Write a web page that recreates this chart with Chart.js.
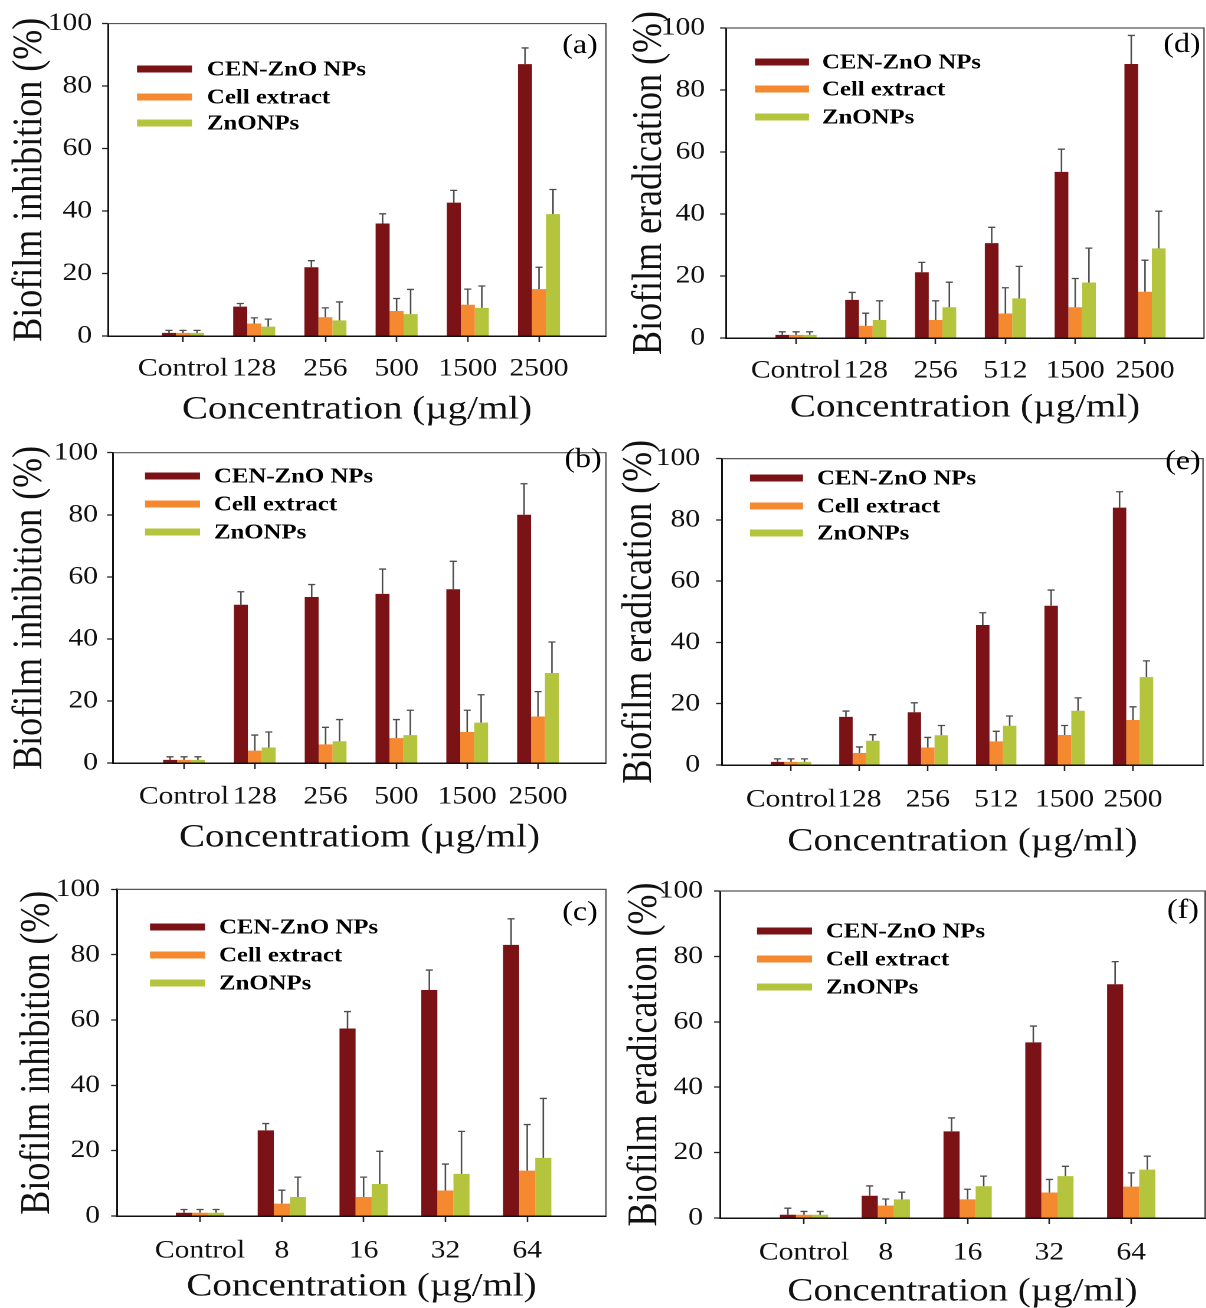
<!DOCTYPE html>
<html lang="en">
  <head>
    <meta charset="utf-8" />
    <title>Biofilm inhibition and eradication</title>
    <style>
      * {
        margin: 0;
        padding: 0;
      }
      body {
        width: 1206px;
        height: 1308px;
        background: #fff;
        position: relative;
        overflow: hidden;
      }
      .panel {
        position: absolute;
        transform-origin: 0 0;
      }
    </style>
  </head>
  <body>
    <div class="panel"><canvas id="chartA"></canvas></div>
    <div class="panel"><canvas id="chartD"></canvas></div>
    <div class="panel"><canvas id="chartB"></canvas></div>
    <div class="panel"><canvas id="chartE"></canvas></div>
    <div class="panel"><canvas id="chartC"></canvas></div>
    <div class="panel"><canvas id="chartF"></canvas></div>

    <script src="https://cdn.jsdelivr.net/npm/chart.js"></script>

    <script>
      // data block
      const catsAB = ["Control", "128", "256", "500", "1500", "2500"];
      const catsDE = ["Control", "128", "256", "512", "1500", "2500"];
      const catsCF = ["Control", "8", "16", "32", "64"];
      const seriesNames = ["CEN-ZnO NPs", "Cell extract", "ZnONPs"];
      const yTicks = [0, 20, 40, 60, 80, 100];

      // (a) biofilm inhibition
      const aCen = [1, 9.4, 22, 36, 42.7, 87];
      const aCenErr = [0.8, 1, 2.1, 3.1, 3.9, 5.2];
      const aCell = [1, 4, 6, 8, 10, 15];
      const aCellErr = [0.8, 1.8, 3, 4, 5, 7];
      const aZn = [1, 3, 5, 7, 9, 39];
      const aZnErr = [0.8, 2.4, 5.9, 7.9, 7, 7.9];

      // (b) biofilm inhibition
      const bCen = [1, 51, 53.5, 54.5, 56, 80];
      const bCenErr = [1, 4.2, 4, 8, 9, 10];
      const bCell = [1, 4, 6, 8, 10, 15];
      const bCellErr = [1, 5, 5.5, 6, 7, 8];
      const bZn = [1, 5, 7, 9, 13, 29];
      const bZnErr = [1, 5, 7, 8, 9, 10];

      // (c) biofilm inhibition
      const cCen = [1, 26.2, 57.4, 69.2, 83];
      const cCenErr = [1, 2.1, 5.2, 6.1, 8];
      const cCell = [1, 3.8, 5.8, 7.8, 13.9];
      const cCellErr = [1, 4.1, 6.1, 8.1, 14.1];
      const cZn = [1, 5.8, 9.8, 12.9, 17.8];
      const cZnErr = [1, 6.1, 10, 13, 18.2];

      // (d) biofilm eradication
      const dCen = [1, 12.3, 21.2, 30.6, 53.6, 88.4];
      const dCenErr = [1, 2.4, 3.2, 5.1, 7.3, 9.2];
      const dCell = [1, 3.9, 5.8, 7.9, 9.9, 14.9];
      const dCellErr = [1, 4.1, 6.2, 8.3, 9.3, 10.2];
      const dZn = [1, 5.8, 9.9, 12.8, 17.9, 28.9];
      const dZnErr = [1, 6.2, 8.1, 10.3, 11.1, 12];

      // (e) biofilm eradication
      const eCen = [1, 15.7, 17.2, 45.7, 52, 84];
      const eCenErr = [1, 1.9, 3.1, 4, 5.1, 5.2];
      const eCell = [1, 3.9, 5.7, 7.7, 9.8, 14.7];
      const eCellErr = [1, 2, 3.3, 3.3, 3.1, 4.3];
      const eZn = [1, 7.9, 9.7, 12.8, 17.7, 28.7];
      const eZnErr = [1, 2, 3.2, 3.2, 4.2, 5.3];

      // (f) biofilm eradication
      const fCen = [1, 6.8, 26.5, 53.7, 71.5];
      const fCenErr = [2, 3, 4.1, 5, 6.9];
      const fCell = [1, 3.8, 5.7, 7.8, 9.6];
      const fCellErr = [1, 2, 3.1, 4, 4.2];
      const fZn = [1, 5.7, 9.7, 12.8, 14.8];
      const fZnErr = [1, 2.2, 3.1, 3, 4.1];

      const seriesColors = ["#7b1316", "#f4892f", "#b4c43c"];
      const FONT = "'Liberation Serif', 'Times New Roman', serif";
      // the source figure is stretched sideways, so each canvas is too
      const STRETCH = 1.18;

      // panel layout, page pixels
      const panels = [
        {
          id: "chartA", box: [0, 0, 610, 430], area: [108, 22, 606, 336],
          firstTick: 183, tickGap: 71.2, cats: catsAB,
          series: [aCen, aCell, aZn], errs: [aCenErr, aCellErr, aZnErr],
          yTitle: "Biofilm inhibition (%)", xTitle: "Concentration (\u00b5g/ml)",
          yTitleX: 30, yLabelRight: 92, xLabelY: 369, xTitleY: 410,
          legend: { x0: 137, x1: 192, textX: 207, rows: [69, 97, 123] },
          letter: "(a)", letterAt: [580, 46],
        },
        {
          id: "chartD", box: [612, 0, 594, 430], area: [726, 28, 1204, 338],
          firstTick: 796, tickGap: 69.8, cats: catsDE,
          series: [dCen, dCell, dZn], errs: [dCenErr, dCellErr, dZnErr],
          yTitle: "Biofilm eradication (%)", xTitle: "Concentration (\u00b5g/ml)",
          yTitleX: 650, yLabelRight: 705, xLabelY: 371, xTitleY: 408,
          legend: { x0: 755, x1: 809, textX: 822, rows: [62, 89, 117] },
          letter: "(d)", letterAt: [1182, 45],
        },
        {
          id: "chartB", box: [0, 430, 610, 435], area: [113, 440, 606, 763],
          firstTick: 184, tickGap: 70.8, cats: catsAB,
          series: [bCen, bCell, bZn], errs: [bCenErr, bCellErr, bZnErr],
          yTitle: "Biofilm inhibition (%)", xTitle: "Concentratiom (\u00b5g/ml)",
          yTitleX: 30, yLabelRight: 98, xLabelY: 797, xTitleY: 838,
          legend: { x0: 145, x1: 200, textX: 214, rows: [476, 504, 532] },
          letter: "(b)", letterAt: [583, 460],
        },
        {
          id: "chartE", box: [612, 430, 594, 435], area: [722, 441, 1203, 765],
          firstTick: 791, tickGap: 68.4, cats: catsDE,
          series: [eCen, eCell, eZn], errs: [eCenErr, eCellErr, eZnErr],
          yTitle: "Biofilm eradication (%)", xTitle: "Concentration (\u00b5g/ml)",
          yTitleX: 640, yLabelRight: 700, xLabelY: 800, xTitleY: 842,
          legend: { x0: 750, x1: 803, textX: 817, rows: [478, 506, 533] },
          letter: "(e)", letterAt: [1183, 462],
        },
        {
          id: "chartC", box: [0, 865, 610, 445], area: [117, 887, 606, 1216],
          firstTick: 200, tickGap: 81.8, cats: catsCF,
          series: [cCen, cCell, cZn], errs: [cCenErr, cCellErr, cZnErr],
          yTitle: "Biofilm inhibition (%)", xTitle: "Concentration (\u00b5g/ml)",
          yTitleX: 38, yLabelRight: 100, xLabelY: 1251, xTitleY: 1287,
          legend: { x0: 150, x1: 205, textX: 219, rows: [927, 955, 983] },
          letter: "(c)", letterAt: [580, 913],
        },
        {
          id: "chartF", box: [612, 865, 594, 445], area: [720, 891, 1205, 1218],
          firstTick: 804, tickGap: 81.8, cats: catsCF,
          series: [fCen, fCell, fZn], errs: [fCenErr, fCellErr, fZnErr],
          yTitle: "Biofilm eradication (%)", xTitle: "Concentration (\u00b5g/ml)",
          yTitleX: 645, yLabelRight: 703, xLabelY: 1253, xTitleY: 1292,
          legend: { x0: 757, x1: 812, textX: 826, rows: [931, 959, 987] },
          letter: "(f)", letterAt: [1183, 911],
        },
      ];

      // error bar plugin block (upper half only, with a cap)
      const errorBars = {
        id: "errorBars",
        afterDatasetsDraw(chart) {
          const { ctx, scales: { y } } = chart;
          ctx.save();
          ctx.strokeStyle = "#4d4d4d";
          ctx.lineWidth = 1.3;
          chart.data.datasets.forEach((ds, k) => {
            chart.getDatasetMeta(k).data.forEach((bar, i) => {
              const top = y.getPixelForValue(ds.data[i].y + ds.errors[i]);
              ctx.beginPath();
              ctx.moveTo(bar.x, bar.y);
              ctx.lineTo(bar.x, top);
              ctx.moveTo(bar.x - 3, top);
              ctx.lineTo(bar.x + 3, top);
              ctx.stroke();
            });
          });
          ctx.restore();
        },
      };

      // frame, legend and panel letter
      const panelDecor = {
        id: "panelDecor",
        beforeDatasetsDraw(chart) {
          const { ctx, chartArea: { top, bottom, left, right } } = chart;
          ctx.save();
          ctx.strokeStyle = "#555";
          ctx.lineWidth = 1.2;
          ctx.beginPath();
          ctx.moveTo(left, top);
          ctx.lineTo(right, top);
          ctx.lineTo(right, bottom);
          ctx.stroke();
          ctx.restore();
        },
        afterDraw(chart, args, opts) {
          const { ctx } = chart;
          ctx.save();
          chart.data.datasets.forEach((ds, k) => {
            const yy = opts.rows[k];
            ctx.strokeStyle = ds.backgroundColor;
            ctx.lineWidth = 7;
            ctx.beginPath();
            ctx.moveTo(opts.x0, yy);
            ctx.lineTo(opts.x1, yy);
            ctx.stroke();
            ctx.fillStyle = "#000";
            ctx.font = "bold 21px " + FONT;
            ctx.textAlign = "left";
            ctx.textBaseline = "middle";
            ctx.fillText(ds.label, opts.textX, yy + 1);
          });
          ctx.font = "27px " + FONT;
          ctx.textAlign = "center";
          ctx.textBaseline = "middle";
          ctx.fillText(opts.letter, opts.letterX, opts.letterY);
          ctx.restore();
        },
      };

      const makeChart = (p) => {
        const s = STRETCH;
        const [px, py, pw, ph] = p.box;
        const W = Math.round(pw / s);
        const H = ph;
        const canvas = document.getElementById(p.id);
        const holder = canvas.parentElement;
        holder.style.left = px + "px";
        holder.style.top = py + "px";
        holder.style.width = W + "px";
        holder.style.height = H + "px";
        holder.style.transform = "scaleX(" + s + ")";
        canvas.width = W;
        canvas.height = H;

        const cx = (v) => (v - px) / s;
        const cy = (v) => v - py;
        const [L, T, R, B] = p.area;
        const Lc = cx(L);
        const Rc = cx(R);
        const Bc = cy(B);

        const xMin = 1 - (p.firstTick - L) / p.tickGap;
        const xMax = 1 + (R - p.firstTick) / p.tickGap;

        const tickFont = { family: FONT, size: 25, lineHeight: 1.2 };
        const xPad = p.xLabelY - B - 6 - 15;
        const yPad = (L - p.yLabelRight) / s - 5;
        const yTitlePad = (p.yTitleX - px) / s - 18;
        const xTitlePad = py + H - 16.5 - p.xTitleY;

        const data = {
          datasets: seriesNames.map((name, k) => ({
            label: name,
            data: p.cats.map((c, i) => ({ x: i + 1, y: p.series[k][i] })),
            errors: p.errs[k],
            backgroundColor: seriesColors[k],
            borderWidth: 0,
            categoryPercentage: 0.59,
            barPercentage: 1,
          })),
        };

        const config = {
          type: "bar",
          data: data,
          options: {
            responsive: false,
            animation: false,
            devicePixelRatio: 2,
            layout: {
              padding: { left: 0, right: W - Rc, top: cy(T), bottom: 0 },
            },
            plugins: {
              legend: { display: false },
              tooltip: { enabled: false },
              panelDecor: {
                x0: cx(p.legend.x0),
                x1: cx(p.legend.x1),
                textX: cx(p.legend.textX),
                rows: p.legend.rows.map(cy),
                letter: p.letter,
                letterX: cx(p.letterAt[0]),
                letterY: cy(p.letterAt[1]),
              },
            },
            scales: {
              x: {
                type: "linear",
                min: xMin,
                max: xMax,
                bounds: "data",
                offset: false,
                afterBuildTicks: (sc) => {
                  sc.ticks = p.cats.map((c, i) => ({ value: i + 1 }));
                },
                afterFit: (sc) => {
                  sc.height = H - Bc;
                },
                ticks: {
                  callback: (v, i) => p.cats[i],
                  autoSkip: false,
                  maxRotation: 0,
                  color: "#111",
                  font: tickFont,
                  padding: xPad,
                },
                grid: {
                  offset: false,
                  drawOnChartArea: false,
                  tickLength: 6,
                  tickColor: "#222",
                  tickWidth: 1.3,
                },
                border: { color: "#111", width: 1.5 },
                title: {
                  display: true,
                  text: p.xTitle,
                  color: "#111",
                  font: { family: FONT, size: 33, lineHeight: 1 },
                  padding: { top: 0, bottom: xTitlePad },
                },
              },
              y: {
                min: 0,
                max: 100,
                afterBuildTicks: (sc) => {
                  sc.ticks = yTicks.map((v) => ({ value: v }));
                },
                afterFit: (sc) => {
                  sc.width = Lc;
                },
                ticks: {
                  color: "#111",
                  font: tickFont,
                  padding: yPad,
                },
                grid: {
                  drawOnChartArea: false,
                  tickLength: 5,
                  tickColor: "#222",
                  tickWidth: 1.3,
                },
                border: { color: "#111", width: 1.5 },
                title: {
                  display: true,
                  text: p.yTitle,
                  color: "#111",
                  font: { family: FONT, size: 36, lineHeight: 1 },
                  padding: { top: yTitlePad, bottom: 0 },
                },
              },
            },
          },
          plugins: [errorBars, panelDecor],
        };

        return new Chart(canvas, config);
      };

      // init render block
      const charts = panels.map(makeChart);
    </script>
  </body>
</html>
